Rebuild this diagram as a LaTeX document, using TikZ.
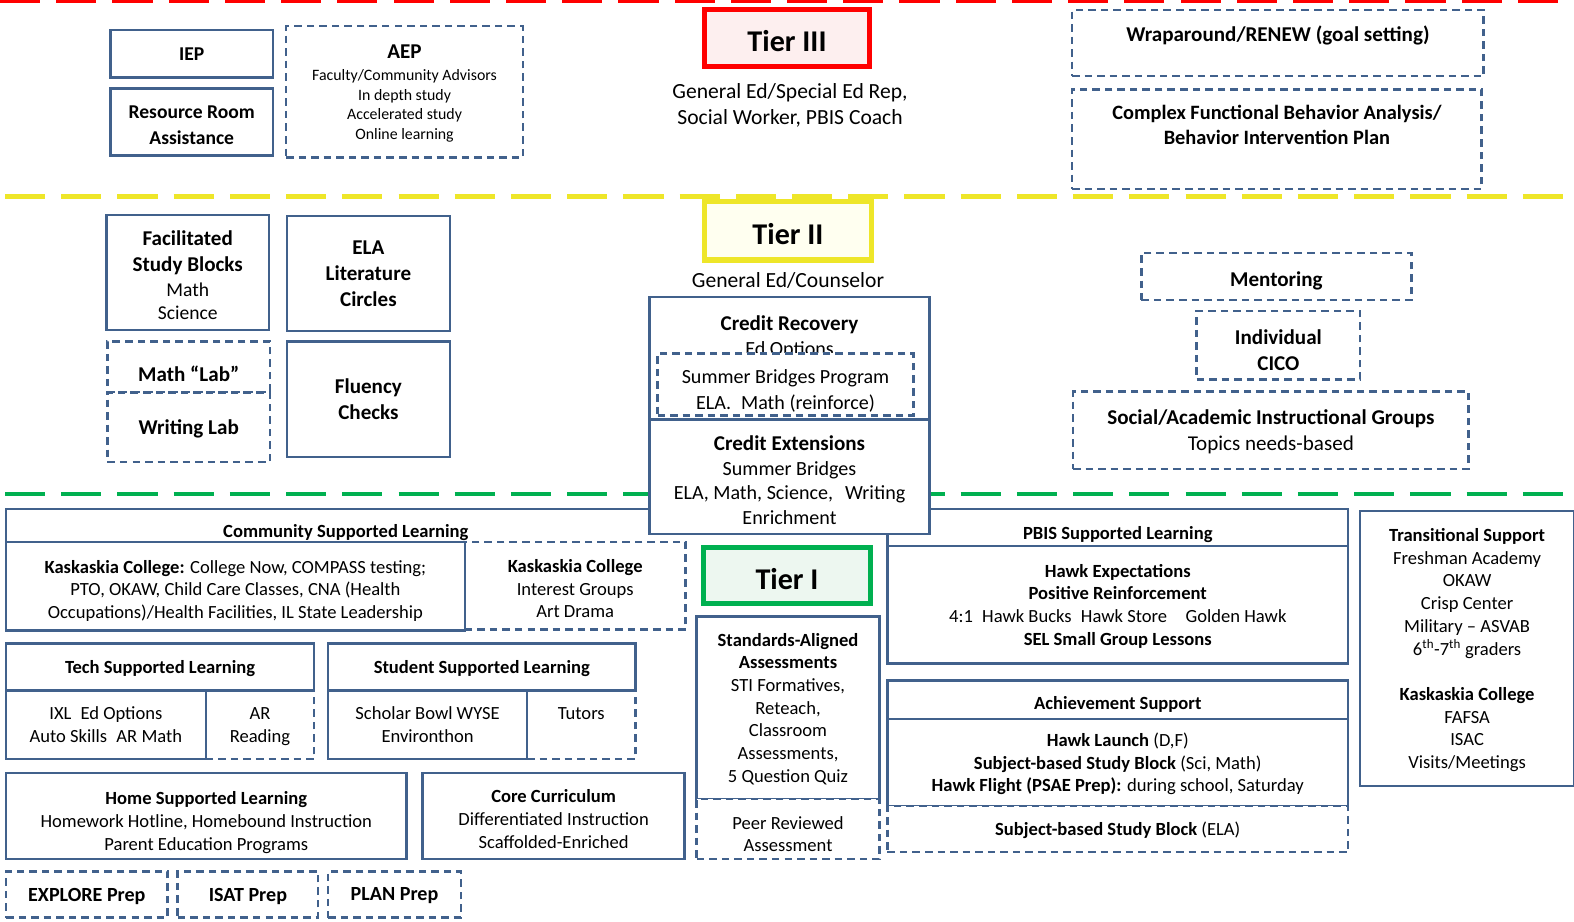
\documentclass[tikz,border=0pt]{standalone}
\usepackage{fontspec}
\setmainfont{Carlito}
\usetikzlibrary{positioning}

\definecolor{boxblue}{HTML}{41618C}
\definecolor{tierred}{HTML}{FF0000}
\definecolor{tieryellow}{HTML}{EEE629}
\definecolor{tiergreen}{HTML}{00B050}
\definecolor{redfill}{HTML}{FDEFEF}
\definecolor{yellowfill}{HTML}{FFFFF0}
\definecolor{greenfill}{HTML}{EDF7F0}

\tikzset{
  sbox/.style={draw=boxblue, line width=2.4pt, fill=white, inner sep=0pt, align=center,
    text depth=-3pt, font=\fontsize{18.5}{22.6}\selectfont},
  dbox/.style={sbox, dash pattern=on 7.5pt off 5pt},
  low/.style={execute at begin node={\rule{0pt}{#1}}},
  bigbox/.style={sbox, font=\fontsize{21}{25.8}\selectfont\bfseries},
  bigdbox/.style={dbox, font=\fontsize{21}{25.8}\selectfont\bfseries},
  headbox/.style={sbox, font=\fontsize{18.5}{22.6}\selectfont\bfseries},
  prepbox/.style={dbox, font=\fontsize{20}{24}\selectfont\bfseries, minimum height=46},
  tierline/.style={line width=4.5pt, dash pattern=on 40pt off 16pt},
  tierbox/.style={line width=5pt, inner sep=0pt, low=28pt, font=\fontsize{30}{32}\selectfont\bfseries},
  txt/.style={inner sep=0pt, align=center, text depth=-3pt, font=\fontsize{21.5}{26}\selectfont}
}

\begin{document}
\begin{tikzpicture}[x=1pt, y=-1pt]
  \useasboundingbox (0,0) rectangle (1568,918);

  % Tier dividers
  \draw[tierline, tierred] (0,1) -- (1568,1);
  \draw[tierline, tieryellow] (5,196) -- (1568,196);
  \draw[tierline, tiergreen] (5,492) -- (1568,492);

  % ---------- Tier III ----------
  \node[bigbox, font=\fontsize{19.5}{26}\selectfont\bfseries, minimum width=162, minimum height=47] (iep) at (191,53.5) {IEP};
  \node[bigbox, font=\fontsize{19.5}{26}\selectfont\bfseries, minimum width=162, minimum height=67] (resroom) at (191,121.5) {\rule{0pt}{19.5pt}Resource Room\\Assistance};
  \node[dbox, font=\fontsize{15.8}{19.5}\selectfont, minimum width=236, minimum height=131] (aep) at (403,91.5)
    {\textbf{\fontsize{21}{23}\selectfont AEP}\\[3pt]Faculty/Community Advisors\\In depth study\\Accelerated study\\Online learning};

  \node[tierbox, draw=tierred, fill=redfill, minimum width=164, minimum height=57] (tier3) at (784,37.5) {Tier III};
  \node[txt] (tier3who) at (787,104) {General Ed/Special Ed Rep,\\Social Worker, PBIS Coach};

  \node[bigdbox, minimum width=410, minimum height=66] (wrap) at (1273,43) {};
  \node[txt, font=\fontsize{21}{25.5}\selectfont\bfseries] (wraptxt) at (1273,34) {Wraparound/RENEW (goal setting)};
  \node[bigdbox, minimum width=408, minimum height=99] (fba) at (1272,138.5) {};
  \node[txt, font=\fontsize{20.3}{25.5}\selectfont\bfseries] (fbatxt) at (1272,124.5) {Complex Functional Behavior Analysis/\\Behavior Intervention Plan};

  % ---------- Tier II ----------
  \node[sbox, font=\fontsize{19.5}{24.5}\selectfont, minimum width=162, minimum height=115] (studyblk) at (187,271.5)
    {\rule{0pt}{20.5pt}\textbf{\fontsize{21}{25}\selectfont Facilitated}\\[1.5pt]\textbf{\fontsize{21}{25}\selectfont Study Blocks}\\Math\\[-1pt]Science};
  \node[bigbox, minimum width=162, minimum height=115] (ela) at (367,272.5) {ELA\\Literature\\Circles};
  \node[bigdbox, minimum width=162, minimum height=51] (mathlab) at (188,365.5) {};
  \node[txt, font=\fontsize{21}{25.5}\selectfont\bfseries] (mathlabtxt) at (188,372) {Math “Lab”};
  \node[bigdbox, minimum width=162, minimum height=69] (writelab) at (188,425.5) {Writing Lab};
  \node[bigbox, minimum width=162, minimum height=115] (fluency) at (367,397.5) {Fluency\\Checks};

  \node[tierbox, draw=tieryellow, fill=yellowfill, minimum width=166, minimum height=58] (tier2) at (785,230) {Tier II};
  \node[txt] (tier2who) at (785,279) {General Ed/Counselor};

  \node[bigdbox, low=19pt, minimum width=269, minimum height=47] (mentor) at (1271.5,275.5) {Mentoring};
  \node[bigdbox, minimum width=163, minimum height=68] (cico) at (1273.5,344) {\rule{0pt}{24pt}Individual\\CICO};
  \node[bigdbox, minimum width=394, minimum height=77] (socgrp) at (1266,428.5)
    {Social/Academic Instructional Groups\\\mdseries Topics needs-based};

  % ---------- Tier I ----------
  \node[minimum width=677, minimum height=33, inner sep=0pt] (comm) at (344.5,523.5) {};
  \draw[boxblue, line width=2.4pt] (comm.south west) |- (comm.north east);
  \node[txt, font=\fontsize{18.5}{22.6}\selectfont\bfseries] (commtxt) at (344.5,529) {Community Supported Learning};
  \node[dbox, minimum width=220, minimum height=87] (kaskr) at (573,583.5)
    {\rule{0pt}{19pt}\textbf{Kaskaskia College}\\Interest Groups\\Art Drama};
  \node[sbox, minimum width=457, minimum height=88] (kask) at (234.5,584)
    {\rule{0pt}{19pt}\textbf{Kaskaskia College:} College Now, COMPASS testing;\\PTO, OKAW, Child Care Classes, CNA (Health\\Occupations)/Health Facilities, IL State Leadership};

  \node[dbox, minimum width=108, minimum height=68] (techr) at (259,722) {AR\\Reading};
  \node[sbox, minimum width=199, minimum height=68] (techl) at (105.5,722) {IXL\hspace{9pt}Ed Options\\Auto Skills\enspace AR Math};
  \node[headbox, minimum width=307, minimum height=47] (tech) at (159.5,664.5) {Tech Supported Learning};

  \node[dbox, minimum width=108, minimum height=68] (studr) at (579,722) {Tutors\\\mbox{}};
  \node[sbox, minimum width=198, minimum height=68] (studl) at (426,722) {Scholar Bowl WYSE\\Environthon};
  \node[headbox, minimum width=306, minimum height=47] (stud) at (480,664.5) {Student Supported Learning};

  \node[sbox, minimum width=399, minimum height=86] (home) at (205.5,813)
    {\rule{0pt}{23pt}\textbf{Home Supported Learning}\\Homework Hotline, Homebound Instruction\\Parent Education Programs};
  \node[sbox, minimum width=261, minimum height=86] (core) at (551.5,813)
    {\rule{0pt}{19pt}\textbf{Core Curriculum}\\Differentiated Instruction\\Scaffolded-Enriched};

  \node[prepbox, minimum width=161] (explore) at (86.5,891) {EXPLORE Prep};
  \node[prepbox, minimum width=140] (isat) at (247,891) {ISAT Prep};
  \node[prepbox, minimum width=132] (plan) at (393,891) {PLAN Prep};

  \node[tierbox, draw=tiergreen, fill=greenfill, minimum width=166, minimum height=56] (tier1) at (784,573) {Tier I};

  \node[sbox, minimum width=182, minimum height=182] (stdassess) at (785,705)
    {\textbf{Standards-Aligned}\\\textbf{Assessments}\\STI Formatives,\\Reteach,\\Classroom\\Assessments,\\5 Question Quiz};
  \node[dbox, minimum width=182, minimum height=60] (peer) at (785,826) {};
  \node[txt, font=\fontsize{18.5}{22.6}\selectfont] (peertxt) at (785,831) {Peer Reviewed\\Assessment};

  \node[headbox, minimum width=459, minimum height=37] (pbis) at (1113.5,525.5) {};
  \node[txt, font=\fontsize{18.5}{22.6}\selectfont\bfseries] (pbistxt) at (1113.5,531) {PBIS Supported Learning};
  \node[sbox, minimum width=459, minimum height=117] (pbisbody) at (1113.5,602.5)
    {\textbf{Hawk Expectations}\\\textbf{Positive Reinforcement}\\4:1\enspace Hawk Bucks\enspace Hawk Store\quad Golden Hawk\\\textbf{SEL Small Group Lessons}};

  \node[headbox, low=19pt, minimum width=459, minimum height=38] (achieve) at (1113.5,697) {Achievement Support};
  \node[sbox, minimum width=459, minimum height=87] (achbody) at (1113.5,759.5)
    {\textbf{Hawk Launch} (D,F)\\\textbf{Subject-based Study Block} (Sci, Math)\\\textbf{Hawk Flight (PSAE Prep):} during school, Saturday};
  \node[dbox, minimum width=459, minimum height=46] (achela) at (1113.5,826) {\textbf{Subject-based Study Block} (ELA)};

  \node[sbox, minimum width=213, minimum height=274] (trans) at (1461.5,646)
    {\textbf{Transitional Support}\\Freshman Academy\\OKAW\\Crisp Center\\Military – ASVAB\\6\textsuperscript{th}-7\textsuperscript{th} graders\\[22.6pt]
     \textbf{Kaskaskia College}\\FAFSA\\ISAC\\Visits/Meetings};

  % Tier II credit boxes sit over the Tier I headers
  \node[sbox, minimum width=279, minimum height=122] (credrec) at (786.5,357) {};
  \node[txt, font=\fontsize{20}{25}\selectfont] (credrectxt) at (786.5,334.5) {\textbf{\fontsize{21}{25}\selectfont Credit Recovery}\\Ed Options};
  \node[dbox, minimum width=255, minimum height=62] (summer) at (782.5,383) {};
  \node[txt, font=\fontsize{20}{25}\selectfont] (summertxt) at (782.5,388) {Summer Bridges Program\\ELA.\enspace Math (reinforce)};
  \node[sbox, font=\fontsize{20}{24.5}\selectfont, minimum width=279, minimum height=114] (credext) at (786.5,475)
    {\rule{0pt}{21.5pt}\textbf{\fontsize{21}{24.5}\selectfont Credit Extensions}\\Summer Bridges\\ELA, Math, Science,\hspace{12pt}Writing\\Enrichment};
\end{tikzpicture}
\end{document}
